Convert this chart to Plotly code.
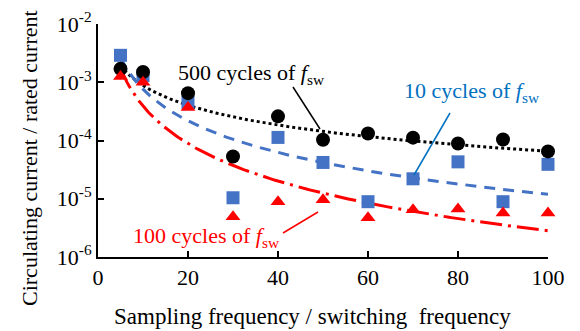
import numpy as np
import plotly.graph_objects as go

ratio = [5, 10, 20, 30, 40, 50, 60, 70, 80, 90, 100]
cyc500 = [1.7e-3, 1.5e-3, 6.5e-4, 5.3e-5, 2.6e-4, 1.03e-4, 1.32e-4, 1.12e-4, 8.9e-5, 1.04e-4, 6.5e-5]
cyc10 = [2.9e-3, 1.3e-3, 4.5e-4, 1.04e-5, 1.13e-4, 4.2e-5, 8.9e-6, 2.2e-5, 4.3e-5, 8.9e-6, 3.9e-5]
cyc100 = [1.25e-3, 1.0e-3, 3.7e-4, 4.9e-6, 8.9e-6, 9.6e-6, 4.7e-6, 6.5e-6, 6.7e-6, 5.7e-6, 5.7e-6]

ytick_vals = [1e-6, 1e-5, 1e-4, 1e-3, 1e-2]
ytick_text = ["10<sup>-6</sup>", "10<sup>-5</sup>", "10<sup>-4</sup>", "10<sup>-3</sup>", "10<sup>-2</sup>"]
xtick_vals = [0, 20, 40, 60, 80, 100]

BLUE = "#4472C4"
RED = "#FF0000"
FONT = "Liberation Serif, Times New Roman, serif"

# page body has an 8px default margin: shrink the figure so the plot lands where intended
OFF = 8
W, H = 580 - OFF, 331 - OFF
PL, PR, PT, PB = 98, 548, 24, 257   # plot area in window pixels


def power_fit(x, y):
    lx = np.log10(np.array(x, dtype=float))
    ly = np.log10(np.array(y, dtype=float))
    b, a = np.polyfit(lx, ly, 1)
    xs = np.linspace(min(x), max(x), 200)
    return xs, 10 ** (a + b * np.log10(xs))


fig = go.Figure()

for ys, color, dash in [(cyc500, "black", "dot"),
                        (cyc10, BLUE, "11px,8px"),
                        (cyc100, RED, "22px,6px,3px,6px")]:
    xs, yf = power_fit(ratio, ys)
    fig.add_trace(go.Scatter(x=xs, y=yf, mode="lines",
                             line=dict(color=color, width=3, dash=dash),
                             hoverinfo="skip", showlegend=False))

fig.add_trace(go.Scatter(x=ratio, y=cyc10, mode="markers",
                         marker=dict(symbol="square", size=13, color=BLUE),
                         showlegend=False, cliponaxis=False))
fig.add_trace(go.Scatter(x=ratio, y=cyc500, mode="markers",
                         marker=dict(symbol="circle", size=14, color="black"),
                         showlegend=False, cliponaxis=False))
fig.add_trace(go.Scatter(x=ratio, y=cyc100, mode="markers",
                         marker=dict(symbol="triangle-up", size=13, color=RED),
                         showlegend=False, cliponaxis=False))


def px(xp):
    return (xp - PL) / (PR - PL)


def py(yp):
    return (PB - yp) / (PB - PT)


fsw = "<i>f</i><sub>sw</sub>"
annos = [
    dict(x=251, y=74, text="500 cycles of " + fsw, color="black"),
    dict(x=472, y=92, text="10 cycles of " + fsw, color="#0070C0"),
    dict(x=206, y=237, text="100 cycles of " + fsw, color=RED),
]
for a in annos:
    fig.add_annotation(xref="paper", yref="paper", x=px(a["x"]), y=py(a["y"]),
                       text=a["text"], showarrow=False,
                       font=dict(family=FONT, size=22, color=a["color"]),
                       xanchor="center", yanchor="middle")

# axis titles placed explicitly
fig.add_annotation(xref="paper", yref="paper", x=px(312.5), y=py(317),
                   text="Sampling frequency / switching  frequency", showarrow=False,
                   font=dict(family=FONT, size=23, color="black"),
                   xanchor="center", yanchor="middle")
fig.add_annotation(xref="paper", yref="paper", x=px(29), y=py(158),
                   text="Circulating current / rated current", showarrow=False,
                   textangle=-90,
                   font=dict(family=FONT, size=22, color="black"),
                   xanchor="center", yanchor="middle")

lines = [((293, 87), (320, 129), "black", 1.5),
         ((450, 113), (414, 175), "#0070C0", 1.5),
         ((283, 233), (318, 212), RED, 1.5)]
for (x0, y0), (x1, y1), c, w in lines:
    fig.add_shape(type="line", xref="paper", yref="paper",
                  x0=px(x0), y0=py(y0), x1=px(x1), y1=py(y1),
                  line=dict(color=c, width=w))

fig.update_layout(
    width=W, height=H,
    margin=dict(l=PL - OFF, r=W - (PR - OFF), t=PT - OFF, b=H - (PB - OFF)),
    paper_bgcolor="white", plot_bgcolor="white",
    font=dict(family=FONT, size=22, color="black"),
    showlegend=False,
)
fig.update_xaxes(range=[0, 100], tickvals=xtick_vals, ticks="inside", ticklen=6,
                 tickwidth=1.5, tickcolor="black", automargin=False,
                 showline=True, linecolor="black", linewidth=2, showgrid=False,
                 zeroline=False, tickfont=dict(size=22, family=FONT))
fig.update_yaxes(type="log", range=[-6, -2], tickvals=ytick_vals, ticktext=ytick_text,
                 ticks="inside", ticklen=6, tickwidth=1.5, tickcolor="black",
                 automargin=False,
                 showline=True, linecolor="black", linewidth=2, showgrid=False,
                 zeroline=False, tickfont=dict(size=22, family=FONT))

fig.write_html("out.html")
